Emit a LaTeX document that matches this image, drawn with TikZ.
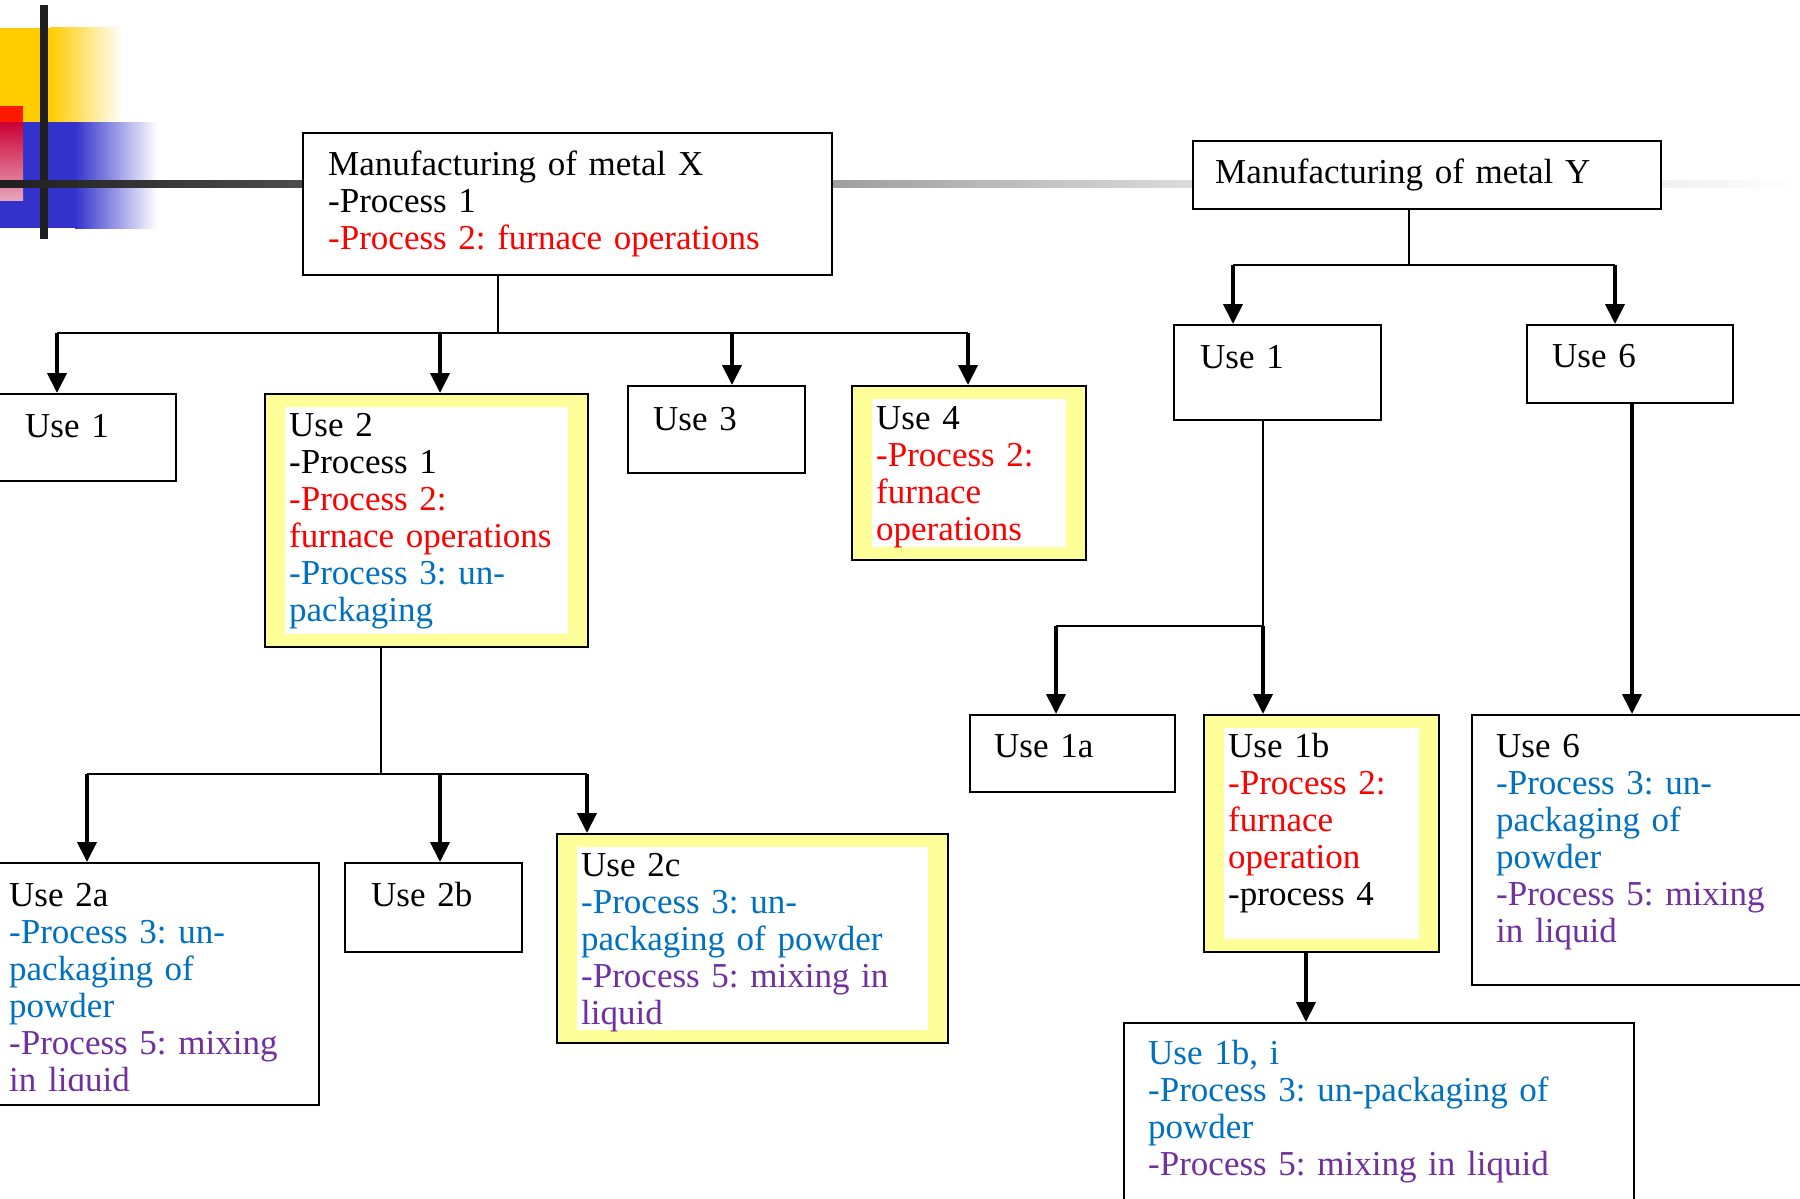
\documentclass[tikz,border=0pt]{standalone}
\usepackage{fontspec}
\setmainfont{Liberation Serif}
\usetikzlibrary{arrows.meta}
\definecolor{procred}{HTML}{FF0000}
\definecolor{procblue}{HTML}{0070C0}
\definecolor{procpurple}{HTML}{7030A0}
\definecolor{hlyellow}{HTML}{FFFF99}
\definecolor{decoyellow}{HTML}{FFCC00}
\definecolor{decoblue}{HTML}{3333CC}
\definecolor{decobar}{HTML}{1F1F1F}
\tikzstyle{frame} = [rectangle, draw=black, line width=2.4pt, fill=white, anchor=north west, inner sep=0pt]
\tikzstyle{hlframe} = [frame, fill=hlyellow,
    path picture={\fill[white] ([shift={(20pt,-13pt)}]path picture bounding box.north west)
        rectangle ([shift={(-20pt,13pt)}]path picture bounding box.south east);}]
\tikzstyle{txt} = [anchor=base west, align=left, inner sep=0pt, text width=700pt,
    font=\fontsize{35}{37}\selectfont\frenchspacing]
\tikzstyle{link} = [line width=2.4pt]
\tikzstyle{arrow} = [line width=4pt, -{Triangle[length=20pt,width=19pt]}]

\begin{document}
\begin{tikzpicture}[x=1pt,y=-1pt]
\useasboundingbox (0,0) rectangle (1800,1199);

% corner decoration
\fill[decoyellow] (0,28) rectangle (50,122);
\shade[left color=decoyellow, right color=white] (50,28) rectangle (123,122);
\fill[decoblue] (0,122) rectangle (75,228);
\shade[left color=decoblue, right color=white] (75,122) rectangle (157,228);
\fill[red!80!orange] (0,106) rectangle (23,122);
\shade[top color=purple!80!red, bottom color=purple!35!white] (0,122) rectangle (23,200);
\fill[decobar] (40,5) rectangle (48,239);
\shade[left color=decobar, right color=black!70] (0,180) rectangle (302,187);
\shade[left color=black!38, right color=black!14] (831,180) rectangle (1192,187);
\shade[left color=black!6, right color=white] (1660,180) rectangle (1800,187);

% metal X
\node (mx) [frame, minimum width=529pt, minimum height=142pt] at (302,132) {};
\node (mxtext) [txt] at ([shift={(26,43)}]mx.north west) {Manufacturing of metal X\\
    -Process 1\\
    \color{procred}-Process 2: furnace operations};

\node (u1) [frame, minimum width=180pt, minimum height=87pt] at (-5,393) {};
\node (u1text) [txt] at ([shift={(30,44)}]u1.north west) {Use 1};

\node (u2) [hlframe, minimum width=323pt, minimum height=253pt] at (264,393) {};
\node (u2text) [txt] at ([shift={(25,43)}]u2.north west) {Use 2\\
    -Process 1\\
    \color{procred}-Process 2:\\
    furnace operations\\
    \color{procblue}-Process 3: un-\\
    packaging};

\node (u3) [frame, minimum width=177pt, minimum height=87pt] at (627,385) {};
\node (u3text) [txt] at ([shift={(26,45)}]u3.north west) {Use 3};

\node (u4) [hlframe, minimum width=234pt, minimum height=174pt] at (851,385) {};
\node (u4text) [txt] at ([shift={(25,44)}]u4.north west) {Use 4\\
    \color{procred}-Process 2:\\
    furnace\\
    operations};

% uses of use 2
\node (u2a) [frame, minimum width=323pt, minimum height=242pt] at (-5,862) {};
\begin{scope}
\clip (-10,850) rectangle (330,1090);
\node (u2atext) [txt] at ([shift={(14,44)}]u2a.north west) {Use 2a\\
    \color{procblue}-Process 3: un-\\
    packaging of\\
    powder\\
    \color{procpurple}-Process 5: mixing\\
    in liquid};
\end{scope}

\node (u2b) [frame, minimum width=177pt, minimum height=89pt] at (344,862) {};
\node (u2btext) [txt] at ([shift={(27,44)}]u2b.north west) {Use 2b};

\node (u2c) [hlframe, minimum width=391pt, minimum height=209pt] at (556,833) {};
\node (u2ctext) [txt] at ([shift={(25,43)}]u2c.north west) {Use 2c\\
    \color{procblue}-Process 3: un-\\
    packaging of powder\\
    \color{procpurple}-Process 5: mixing in\\
    liquid};

% metal Y
\node (my) [frame, minimum width=468pt, minimum height=68pt] at (1192,140) {};
\node (mytext) [txt] at ([shift={(23,43)}]my.north west) {Manufacturing of metal Y};

\node (u1y) [frame, minimum width=207pt, minimum height=95pt] at (1173,324) {};
\node (u1ytext) [txt] at ([shift={(27,44)}]u1y.north west) {Use 1};

\node (u6y) [frame, minimum width=206pt, minimum height=78pt] at (1526,324) {};
\node (u6ytext) [txt] at ([shift={(26,43)}]u6y.north west) {Use 6};

\node (u1a) [frame, minimum width=205pt, minimum height=77pt] at (969,714) {};
\node (u1atext) [txt] at ([shift={(25,43)}]u1a.north west) {Use 1a};

\node (u1b) [hlframe, minimum width=235pt, minimum height=237pt] at (1203,714) {};
\node (u1btext) [txt] at ([shift={(25,43)}]u1b.north west) {Use 1b\\
    \color{procred}-Process 2:\\
    furnace\\
    operation\\
    \color{black}-process 4};

\node (u6) [frame, minimum width=349pt, minimum height=270pt] at (1471,714) {};
\node (u6text) [txt] at ([shift={(25,43)}]u6.north west) {Use 6\\
    \color{procblue}-Process 3: un-\\
    packaging of\\
    powder\\
    \color{procpurple}-Process 5: mixing\\
    in liquid};

\node (u1bi) [frame, minimum width=510pt, minimum height=208pt] at (1123,1022) {};
\node (u1bitext) [txt] at ([shift={(25,42)}]u1bi.north west) {\color{procblue}Use 1b, i\\
    -Process 3: un-packaging of\\
    powder\\
    \color{procpurple}-Process 5: mixing in liquid};

% connectors of metal X
\coordinate (xs) at (498,333);
\coordinate (xa) at (57,333);
\coordinate (xb) at (440,333);
\coordinate (xc) at (732,333);
\coordinate (xd) at (968,333);
\draw[link] (mx.south -| xs) -- (xs);
\draw[link] (xa) -- (xd);
\draw[arrow] (xa) -- (xa |- u1.north);
\draw[arrow] (xb) -- (xb |- u2.north);
\draw[arrow] (xc) -- (xc |- u3.north);
\draw[arrow] (xd) -- (xd |- u4.north);

% connectors of use 2
\coordinate (s2) at (381,774);
\coordinate (s2a) at (87,774);
\coordinate (s2b) at (440,774);
\coordinate (s2c) at (587,774);
\draw[link] (u2.south -| s2) -- (s2);
\draw[link] (s2a) -- (s2c);
\draw[arrow] (s2a) -- (s2a |- u2a.north);
\draw[arrow] (s2b) -- (s2b |- u2b.north);
\draw[arrow] (s2c) -- (s2c |- u2c.north);

% connectors of metal Y
\coordinate (ys) at (1409,265);
\coordinate (ya) at (1233,265);
\coordinate (yb) at (1615,265);
\draw[link] (my.south -| ys) -- (ys);
\draw[link] (ya) -- (yb);
\draw[arrow] (ya) -- (ya |- u1y.north);
\draw[arrow] (yb) -- (yb |- u6y.north);

\coordinate (s1) at (1263,626);
\coordinate (s1a) at (1056,626);
\draw[link] (u1y.south -| s1) -- (s1) -- (s1a);
\draw[arrow] (s1a) -- (s1a |- u1a.north);
\draw[arrow] (s1) -- (s1 |- u1b.north);

\coordinate (s6) at (1632,0);
\draw[arrow] (u6y.south -| s6) -- (u6.north -| s6);
\coordinate (s1b) at (1306,0);
\draw[arrow] (u1b.south -| s1b) -- (u1bi.north -| s1b);
\end{tikzpicture}
\end{document}
